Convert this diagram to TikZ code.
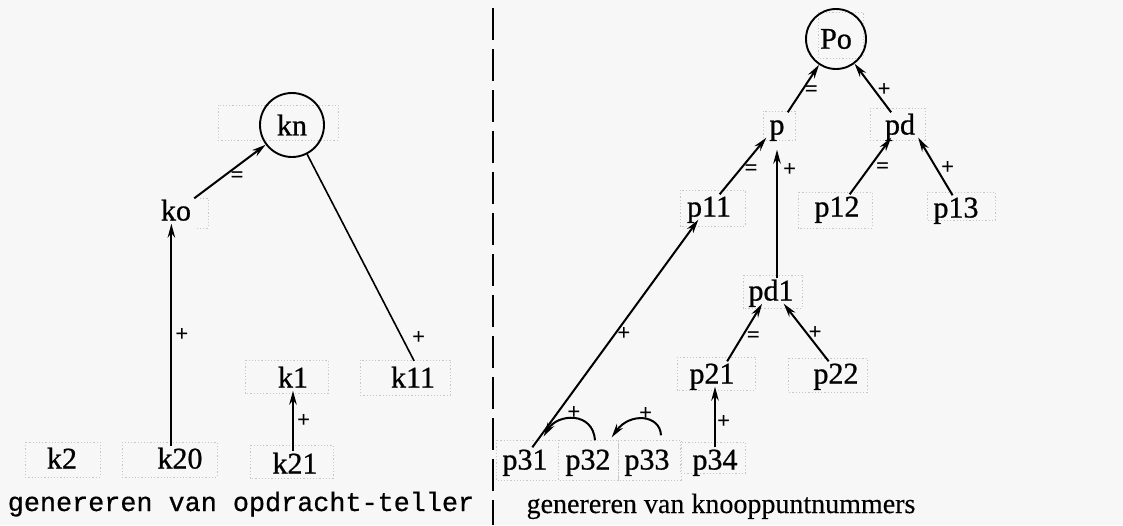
\documentclass[tikz,border=0pt]{standalone}
\usepackage{fontspec}
\setmainfont{Liberation Serif}
\newfontfamily\labfont[FakeBold=0.8]{Liberation Serif}
\newfontfamily\capserif[FakeBold=0.3]{Liberation Serif}
\newfontfamily\capmono[FakeBold=0.6]{Liberation Mono}
\usetikzlibrary{arrows.meta,calc}
\definecolor{paper}{RGB}{247,247,247}

\begin{document}
\begin{tikzpicture}[x=1pt,y=-1pt,
  lbl/.style={inner sep=3pt, font=\labfont\fontsize{30}{30}\selectfont, text height=19pt, text depth=0pt},
  ring/.style={circle, draw, line width=1.9pt, inner sep=0pt, font=\labfont\fontsize{30}{30}\selectfont},
  arr/.style={line width=2pt, -{Stealth[length=14pt,width=7.5pt]}},
  link/.style={line width=1.6pt},
  sgn/.style={inner sep=1pt, font=\fontsize{23}{23}\selectfont\bfseries},
  paste/.style={draw=black!22, line width=0.5pt, dash pattern=on 1.2pt off 2pt},
]
\fill[paper] (0,0) rectangle (1123,525);
\useasboundingbox (0,0) rectangle (1123,525);

% faint paste-up frames round the labels
\foreach \a/\b/\c/\d in {218/105/338/140, 25/442/100/477, 122/442/217/477,
    250/445/333/478, 245/360/328/393, 360/360/450/395,
    763/111/795/140, 870/108/925/140, 680/190/745/226, 798/192/872/228,
    927/192/995/220, 818/12/863/58, 743/275/802/308, 677/357/755/390,
    788/358/867/392, 496/440/558/480, 558/440/618/480, 618/440/681/480,
    680/442/745/473}
  \draw[paste] (\a,\b) rectangle (\c,\d);
\draw[paste] (200,198) -- (208,198) -- (208,228) -- (197,228);

% separator between the two halves
\draw[line width=1.1pt, dash pattern=on 32pt off 9pt] (493,8) -- (493,525);

% ---- left: opdracht-teller ----
\node[ring, minimum size=64pt] (kn) at (292,125) {kn};
\node[lbl] (ko)  at (176,211) {ko};
\node[lbl] (k2)  at (62,459)  {k2};
\node[lbl] (k20) at (180,459) {k20};
\node[lbl] (k21) at (295,464) {k21};
\node[lbl] (k1)  at (293,378) {k1};
\node[lbl] (k11) at (413,378) {k11};

\draw[arr] (ko.north east) -- (kn) node[sgn, pos=0.6, yshift=-11pt] {=};
\draw[arr] (k20.north -| ko.250) -- (ko.250) node[sgn, midway, right=2pt] {+};
\draw[link, shorten >=5pt] (kn) -- (k11.75) node[sgn, pos=0.87, right=8pt] {+};
\draw[arr] (k21.north -| k1.south) -- (k1.south) node[sgn, midway, right=2pt] {+};

\node[font=\capmono\fontsize{26.8}{30}\selectfont, anchor=base, inner sep=0pt] (capL)
  at (241,511) {genereren van opdracht-teller};

% ---- right: knooppuntnummers ----
\node[ring, minimum size=60pt] (Po) at (836,39) {Po};
\node[lbl] (p)   at (777,125) {p};
\node[lbl] (pd)  at (900,125) {pd};
\node[lbl] (p11) at (709,207) {p11};
\node[lbl] (p12) at (837,207) {p12};
\node[lbl] (p13) at (956,208) {p13};
\node[lbl] (pd1) at (771,291) {pd1};
\node[lbl] (p21) at (712,374) {p21};
\node[lbl] (p22) at (836,374) {p22};
\node[lbl] (p31) at (525,460) {p31};
\node[lbl] (p32) at (588,460) {p32};
\node[lbl] (p33) at (647,460) {p33};
\node[lbl] (p34) at (715,460) {p34};

\draw[arr] (p.north east) -- (Po) node[sgn, pos=0.45, right=1pt] {=};
\draw[arr] (pd.125) -- (Po) node[sgn, pos=0.45, right=1pt] {+};
\draw[arr] (p11.50) -- (p.south west) node[sgn, pos=0.43, right=3pt] {=};
\draw[arr, shorten >=12pt] (pd1.north -| p.south) -- (p.south) node[sgn, pos=0.77, right=4pt] {+};
\draw[arr] (p12.45) -- (pd.235) node[sgn, pos=0.47, right=5pt] {=};
\draw[arr] (p13.105) -- (pd.south east) node[sgn, pos=0.48, right=3pt] {+};
\draw[arr] (p31.60) -- (p11.230) node[sgn, pos=0.5, right=0pt] {+};
\draw[arr] (p21.40) -- (pd1.235) node[sgn, pos=0.42, right=3pt] {=};
\draw[arr] (p22.120) -- (pd1.315) node[sgn, pos=0.49, right=0pt] {+};
\draw[arr] (p34.north) -- (p34.north |- p21.south) node[sgn, pos=0.42, right=0pt] {+};
\draw[arr] ($(p32.north)+(7,-7)$) .. controls +(-2,-29) and +(14,-23) .. ($(p31.north east)+(-7,-11)$)
  node[sgn, pos=0.5, above=-3pt] {+};
\draw[arr] ($(p33.north)+(14,-12)$) .. controls +(-1,-21) and +(18,-25) .. ($(p32.north east)+(-2,-10)$)
  node[sgn, pos=0.45, above=-3pt] {+};

\node[font=\capserif\fontsize{28}{30}\selectfont, anchor=base, inner sep=0pt] (capR)
  at (721,513) {genereren van knooppuntnummers};
\end{tikzpicture}
\end{document}
